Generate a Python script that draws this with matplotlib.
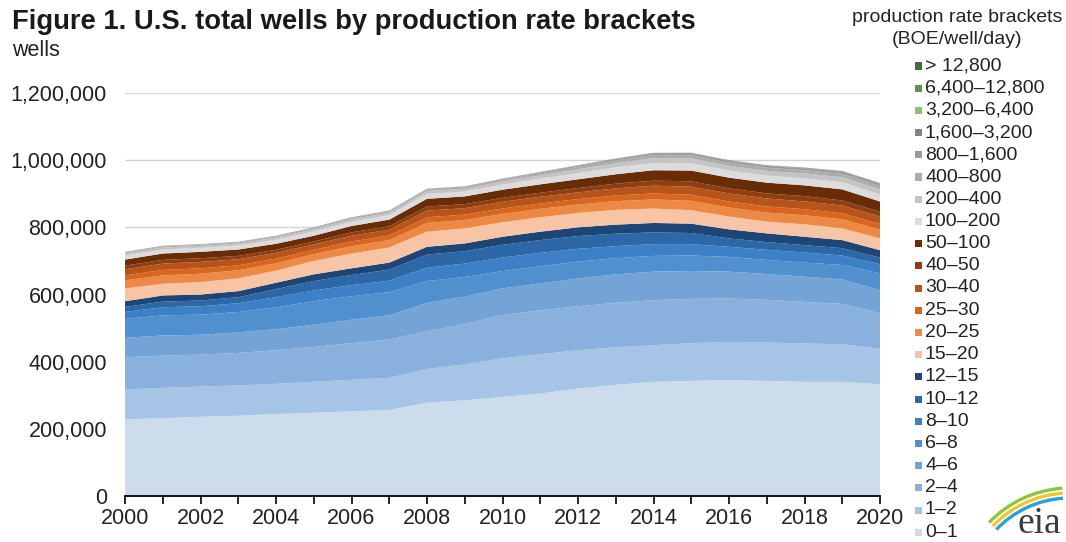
import matplotlib
matplotlib.use("Agg")
import matplotlib.pyplot as plt
from matplotlib.patches import Rectangle, Arc
from matplotlib.ticker import FuncFormatter, MultipleLocator
import numpy as np

years = list(range(2000, 2021))

# values in thousands of wells, bottom bracket first
b0_1 = [228, 232, 236, 239, 244, 248, 252, 256, 278, 285, 295, 305, 320, 331, 340, 343, 345, 343, 340, 340, 333]
b1_2 = [89, 90, 90, 90, 90, 92, 94, 96, 100, 107, 115, 117, 114, 112, 109, 112, 114, 114, 114, 112, 106]
b2_4 = [96, 96, 95, 97, 100, 104, 109, 114, 112, 120, 129, 131, 131, 132, 134, 132, 129, 127, 124, 120, 105]
b4_6 = [58, 60, 59, 61, 63, 66, 70, 72, 85, 82, 79, 80, 83, 85, 85, 83, 80, 77, 75, 73, 69]
b6_8 = [56, 60, 60, 61, 65, 70, 70, 69, 65, 58, 52, 51, 50, 48, 47, 46, 44, 42, 42, 43, 50]
b8_10 = [21, 24, 25, 26, 30, 32, 33, 34, 40, 40, 40, 40, 38, 36, 35, 34, 30, 30, 30, 28, 27]
b10_12 = [15, 17, 17, 18, 24, 28, 30, 33, 39, 37, 38, 38, 38, 37, 35, 33, 25, 23, 22, 22, 20]
b12_15 = [17, 18, 18, 18, 19, 20, 20, 21, 23, 23, 24, 25, 26, 27, 28, 28, 27, 26, 25, 24, 22]
b15_20 = [38, 35, 37, 38, 36, 40, 44, 45, 45, 45, 43, 43, 43, 44, 43, 40, 38, 35, 37, 35, 35]
b20_25 = [24, 25, 25, 24, 22, 20, 22, 22, 26, 25, 25, 25, 25, 26, 27, 28, 27, 27, 27, 27, 26]
b25_30 = [15, 16, 16, 15, 14, 13, 14, 14, 17, 16, 16, 16, 16, 17, 18, 18, 18, 18, 18, 18, 17]
b30_40 = [18, 19, 19, 18, 17, 16, 17, 17, 20, 19, 20, 20, 20, 21, 23, 24, 24, 24, 23, 23, 22]
b40_50 = [11, 11, 11, 10, 9, 9, 10, 10, 12, 12, 12, 12, 13, 14, 15, 16, 15, 15, 16, 15, 14]
b50_100 = [18, 19, 19, 19, 18, 17, 19, 20, 23, 23, 24, 25, 26, 28, 31, 32, 32, 32, 32, 33, 31]
b100_200 = [12.0, 12.0, 12.0, 11.8, 12.2, 12.6, 13.0, 13.4, 14.6, 14.5, 15.6, 17.0, 18.8, 20.5, 22.0, 22.0, 21.5, 21.0, 21.0, 21.5, 21.0]
b200_400 = [6.0, 6.0, 6.0, 6.1, 6.4, 6.7, 7.0, 7.3, 8.2, 8.2, 9.0, 10.0, 11.3, 12.6, 14.0, 14.3, 14.0, 14.0, 14.3, 14.8, 14.8]
b400_800 = [3.0, 3.0, 3.0, 3.1, 3.3, 3.5, 3.7, 3.9, 4.5, 4.6, 5.2, 6.0, 7.0, 8.0, 9.0, 9.4, 9.2, 9.4, 9.7, 10.2, 10.4]
b800_1600 = [1.3, 1.3, 1.3, 1.3, 1.4, 1.5, 1.6, 1.7, 1.9, 1.9, 2.2, 2.8, 3.4, 4.1, 4.8, 5.1, 5.1, 5.3, 5.5, 5.8, 6.0]
b1600_3200 = [0.45, 0.45, 0.45, 0.45, 0.48, 0.50, 0.50, 0.52, 0.58, 0.60, 0.70, 0.90, 1.10, 1.35, 1.60, 1.70, 1.70, 1.75, 1.85, 1.95, 2.05]
b3200_6400 = [0.17, 0.17, 0.17, 0.17, 0.17, 0.18, 0.18, 0.18, 0.20, 0.20, 0.23, 0.28, 0.35, 0.42, 0.50, 0.55, 0.55, 0.55, 0.58, 0.60, 0.62]
b6400_12800 = [0.06, 0.06, 0.06, 0.06, 0.06, 0.06, 0.06, 0.06, 0.07, 0.07, 0.08, 0.09, 0.11, 0.13, 0.15, 0.16, 0.16, 0.16, 0.17, 0.17, 0.18]
b12800 = [0.02, 0.02, 0.02, 0.02, 0.02, 0.02, 0.02, 0.02, 0.02, 0.02, 0.03, 0.03, 0.04, 0.04, 0.05, 0.05, 0.05, 0.05, 0.05, 0.05, 0.05]

labels = ["0\u20131", "1\u20132", "2\u20134", "4\u20136", "6\u20138", "8\u201310", "10\u201312", "12\u201315",
          "15\u201320", "20\u201325", "25\u201330", "30\u201340", "40\u201350", "50\u2013100",
          "100\u2013200", "200\u2013400", "400\u2013800", "800\u20131,600", "1,600\u20133,200",
          "3,200\u20136,400", "6,400\u201312,800", "> 12,800"]
series = [b0_1, b1_2, b2_4, b4_6, b6_8, b8_10, b10_12, b12_15, b15_20, b20_25, b25_30, b30_40,
          b40_50, b50_100, b100_200, b200_400, b400_800, b800_1600, b1600_3200, b3200_6400,
          b6400_12800, b12800]
colors = ["#cddcec", "#a6c4e5", "#8ab1dd", "#74a3d6", "#5090cf", "#3d80c6", "#2c67a8", "#1d4677",
          "#f8c4a6", "#ec8a45", "#d8661f", "#b8531a", "#8f3e12", "#682c07",
          "#dcdcdc", "#c4c4c4", "#acacac", "#9a9a9a", "#858585",
          "#8fbe74", "#5f9450", "#3f6e36"]

plt.rcParams['font.family'] = ['Liberation Sans', 'DejaVu Sans']

W, H = 1066, 542
fig = plt.figure(figsize=(W / 100, H / 100), dpi=100)
ax = fig.add_axes([125 / W, (H - 496) / H, (880 - 125) / W, (496 - 93) / H])

vals = [np.array(s) * 1000 for s in series]
ax.stackplot(years, vals, colors=colors, linewidth=0, edgecolor='none', antialiased=True)

ax.set_xlim(2000, 2020)
ax.set_ylim(0, 1200000)
ax.set_yticks(range(0, 1200001, 200000))
ax.yaxis.set_major_formatter(FuncFormatter(lambda v, p: f"{int(v):,}"))
ax.set_xticks(range(2000, 2021, 2))
ax.xaxis.set_minor_locator(MultipleLocator(1))
for y in range(200000, 1200001, 200000):
    ax.axhline(y, color='#d4d4d4', lw=1.0, zorder=0)
ax.set_axisbelow(True)
for s in ['top', 'right', 'left']:
    ax.spines[s].set_visible(False)
ax.spines['bottom'].set_color('black')
ax.spines['bottom'].set_linewidth(1.3)
ax.tick_params(axis='y', length=0, pad=13, labelsize=15.5, labelcolor='#222222')
ax.tick_params(axis='x', which='both', direction='out', length=6, width=1.2, color='black',
               labelsize=15.5, labelcolor='#222222', pad=3)

fig.text(12 / W, 1 - 22 / H, "Figure 1. U.S. total wells by production rate brackets",
         fontsize=19.7, fontweight='bold', va='center', ha='left', color='#1a1a1a')
fig.text(12 / W, 1 - 50 / H, "wells", fontsize=15.5, va='center', ha='left', color='#222222')

# legend
fig.text(957 / W, 1 - 17 / H, "production rate brackets", fontsize=14, ha='center', va='center', color='#222222')
fig.text(957 / W, 1 - 40 / H, "(BOE/well/day)", fontsize=14, ha='center', va='center', color='#222222')
top_y, step = 66, 22.2
for i, (lab, col) in enumerate(zip(labels[::-1], colors[::-1])):
    yc = top_y + i * step
    fig.add_artist(Rectangle((915 / W, 1 - (yc + 3.5) / H), 7 / W, 7 / H,
                             transform=fig.transFigure, facecolor=col, edgecolor='none'))
    fig.text(925 / W, 1 - yc / H, lab, fontsize=14, ha='left', va='center', color='#222222')

# eia logo
fig.text(1039 / W, 1 - 524 / H, "eia", fontsize=27, family='Liberation Serif', ha='center', va='center',
         color='#3a3a3a')
for r, col, lw in [(112, '#8cc63f', 2.4), (107, '#f2c530', 2.4), (102, '#29a3d6', 2.4)]:
    fig.add_artist(Arc((1070 / W, 1 - 600 / H), 2 * r / W, 2 * r / H, theta1=92, theta2=118,
                       transform=fig.transFigure, color=col, lw=lw))

fig.savefig("out.png", dpi=100, facecolor='white')
